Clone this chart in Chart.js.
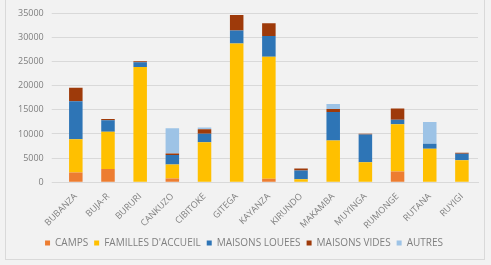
<!DOCTYPE html>
<html>
<head>
<meta charset="utf-8">
<script src="https://cdn.jsdelivr.net/npm/chart.js@4/dist/chart.umd.min.js"></script>
<style>
  html, body { margin: 0; padding: 0; background: #f2f2f2; }
  #wrap { position: absolute; left: 5px; top: 0; width: 480px; height: 260px;
          border-left: 1px solid #d9d9d9; border-right: 1px solid #d9d9d9; border-bottom: 1px solid #d9d9d9;
          box-sizing: border-box; background: #f2f2f2; }
</style>
</head>
<body>
<div id="wrap"><canvas id="chart" width="478" height="259"></canvas></div>
<script>
  // provinces
  const provinces = ['BUBANZA', 'BUJA-R', 'BURURI', 'CANKUZO', 'CIBITOKE', 'GITEGA', 'KAYANZA',
    'KIRUNDO', 'MAKAMBA', 'MUYINGA', 'RUMONGE', 'RUTANA', 'RUYIGI'];

  // series
  const camps     = [2000, 2750,     0,  760,     0,     0,   690,    0,    0,    0, 2200,    0,    0];
  const familles  = [6900, 7700, 23880, 2880,  8300, 28760, 25320,  620, 8650, 4120, 9810, 6940, 4530];
  const louees    = [7900, 2400,  1000, 1980,  1720,  2680,  4320, 1780, 5900, 5760,  960, 1030, 1370];
  const vides     = [2760,  270,   200,  350,   960,  3220,  2610,  420,  620,  140, 2330,    0,  210];
  const autres    = [   0,    0,     0, 5210,   340,     0,     0,    0, 1030,    0,    0, 4530,    0];

  const yTicks = [0, 5000, 10000, 15000, 20000, 25000, 30000, 35000];

  const font = { family: '"Open Sans", "Liberation Sans", sans-serif', size: 9 };

  new Chart(document.getElementById('chart').getContext('2d'), {
    type: 'bar',
    data: {
      labels: provinces,
      datasets: [
        { label: 'CAMPS', data: camps, backgroundColor: '#ED7D31' },
        { label: "FAMILLES D'ACCUEIL", data: familles, backgroundColor: '#FFC000' },
        { label: 'MAISONS LOUEES', data: louees, backgroundColor: '#2E75B6' },
        { label: 'MAISONS VIDES', data: vides, backgroundColor: '#9E3A0A' },
        { label: 'AUTRES', data: autres, backgroundColor: '#9DC3E6' }
      ]
    },
    options: {
      responsive: false,
      animation: false,
      layout: { padding: { left: 4, right: 6, top: 8, bottom: 1 } },
      datasets: { bar: { categoryPercentage: 1, barPercentage: 0.42 } },
      plugins: {
        legend: {
          position: 'bottom',
          labels: { boxWidth: 5, boxHeight: 5, font: { family: font.family, size: 10 }, color: '#7f7f7f', padding: 6 }
        },
        tooltip: { enabled: false }
      },
      scales: {
        x: {
          stacked: true,
          grid: { display: false },
          border: { color: '#d9d9d9' },
          ticks: { font: font, color: '#7f7f7f', maxRotation: 45, minRotation: 45, padding: 1 }
        },
        y: {
          stacked: true,
          min: 0,
          max: 35000,
          afterBuildTicks: function (axis) { axis.ticks = yTicks.map(v => ({ value: v })); },
          grid: { color: '#d9d9d9' },
          border: { display: false },
          ticks: { font: font, color: '#7f7f7f', padding: 8, callback: v => String(v) }
        }
      }
    }
  });
</script>
</body>
</html>
